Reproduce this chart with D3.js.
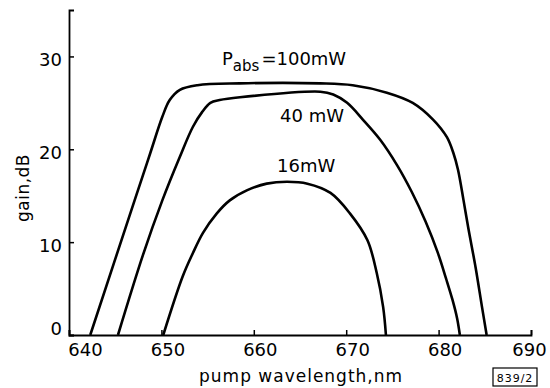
<!DOCTYPE html>
<html>
<head>
<meta charset="utf-8">
<script src="https://cdn.jsdelivr.net/npm/d3@7"></script>
<style>
  body { margin: 0; background: #fff; }
  text { font-family: "DejaVu Sans", sans-serif; fill: #000; }
</style>
</head>
<body>
<div id="chart"></div>
<script>
var W = 550, H = 388;

// x axis
var xTicks = [640, 650, 660, 670, 680, 690];
// y axis
var yTicks = [0, 10, 20, 30];

// gain curves, wavelength (nm) vs gain (dB)
var nm100   = [642.3, 647.1, 648.8, 650.1, 650.9, 652.0, 653.9, 658.5, 667.2, 670.7, 674.4, 677.2, 679.4, 680.9, 681.6, 682.1, 682.7, 683.2, 684.0, 684.7, 685.2];
var gain100 = [0, 14.5, 19.6, 23.5, 25.3, 26.4, 26.9, 27.1, 27.1, 26.9, 26.1, 25.0, 23.2, 21.3, 19.6, 17.8, 14.5, 11.6, 7.3, 3.0, 0];

var nm40    = [645.3, 648.0, 650.1, 652.0, 653.4, 654.4, 655.3, 656.3, 658.5, 667.2, 668.6, 670.1, 671.8, 673.7, 675.5, 677.1, 678.6, 679.9, 680.8, 681.5, 682.0, 682.3];
var gain40  = [0, 8.6, 14.5, 19.2, 22.4, 24.0, 25.0, 25.3, 25.6, 26.2, 25.9, 25.0, 23.2, 21.0, 18.3, 15.4, 12.2, 8.9, 6.1, 3.8, 1.8, 0];

var nm16    = [650.2, 652.3, 653.4, 654.5, 656.0, 657.4, 659.3, 661.4, 663.6, 665.8, 668.3, 670.4, 672.3, 673.3, 674.0, 674.3];
var gain16  = [0, 6.3, 8.8, 11.0, 13.1, 14.5, 15.6, 16.3, 16.5, 16.3, 15.3, 13.1, 10.2, 6.7, 3.0, 0];

var x = d3.scaleLinear().domain([640, 690]).range([69, 531]);
var y = d3.scaleLinear().domain([0, 35]).range([335, 10]);

var svg = d3.select("#chart").append("svg")
    .attr("width", W)
    .attr("height", H);

// axes
var gx = svg.append("g")
    .attr("transform", "translate(0,335)")
    .call(d3.axisBottom(x).tickValues(xTicks).tickSize(-5).tickSizeOuter(-5).tickPadding(8).tickFormat(d3.format("d")));

var gy = svg.append("g")
    .attr("transform", "translate(69,0)")
    .call(d3.axisLeft(y).tickValues(yTicks).tickSize(-5).tickSizeOuter(-5).tickPadding(7).tickFormat(d3.format("d")));

svg.selectAll(".domain").attr("stroke", "#000").attr("stroke-width", 1.8);
svg.selectAll(".tick line").attr("stroke", "#000").attr("stroke-width", 1.5);
svg.selectAll(".tick text").style("font-size", "18px").attr("fill", "#000");

gx.selectAll(".tick text")
    .attr("dx", function (d) {
      if (d == 640) return 16;
      if (d == 690) return -2;
      return 6;
    });
gy.selectAll(".tick text")
    .attr("dy", function (d) { return d == 0 ? "-0.05em" : "0.5em"; });

// axis titles
svg.append("text")
    .attr("x", 199)
    .attr("y", 382)
    .style("font-size", "17px")
    .style("letter-spacing", "1px")
    .text("pump wavelength,nm");

svg.append("text")
    .attr("transform", "translate(29,188) rotate(-90)")
    .attr("text-anchor", "middle")
    .style("font-size", "17px")
    .style("letter-spacing", "0.5px")
    .text("gain,dB");

// curves
var line = d3.line()
    .x(function (d) { return x(d[0]); })
    .y(function (d) { return y(d[1]); })
    .curve(d3.curveCatmullRom.alpha(0.5));

var series = [
  d3.zip(nm100, gain100),
  d3.zip(nm40, gain40),
  d3.zip(nm16, gain16)
];

svg.selectAll("path.curve")
    .data(series)
    .enter()
    .append("path")
    .attr("class", "curve")
    .attr("d", line)
    .attr("fill", "none")
    .attr("stroke", "#000")
    .attr("stroke-width", 2.6);

// curve labels
var lab = svg.append("text")
    .attr("x", 222)
    .attr("y", 65)
    .style("font-size", "18px");
lab.append("tspan").text("P");
lab.append("tspan").attr("dy", 6).style("font-size", "15px").text("abs");
lab.append("tspan").attr("dy", -6).attr("dx", 2).text("=100mW");

svg.append("text")
    .attr("x", 280)
    .attr("y", 122)
    .style("font-size", "18px")
    .text("40 mW");

svg.append("text")
    .attr("x", 277)
    .attr("y", 172)
    .style("font-size", "18px")
    .text("16mW");

// figure number box
svg.append("rect")
    .attr("x", 493)
    .attr("y", 368)
    .attr("width", 44)
    .attr("height", 18)
    .attr("fill", "none")
    .attr("stroke", "#000")
    .attr("stroke-width", 1.2);

svg.append("text")
    .attr("x", 515)
    .attr("y", 382)
    .attr("text-anchor", "middle")
    .style("font-size", "11px")
    .style("letter-spacing", "1px")
    .text("839/2");
</script>
</body>
</html>
